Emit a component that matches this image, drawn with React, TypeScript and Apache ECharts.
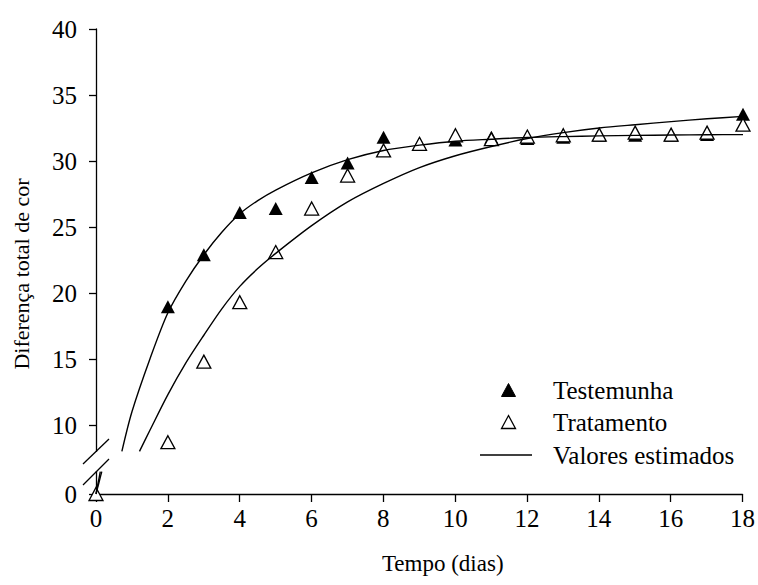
import React, { useEffect, useRef } from "react";
import * as echarts from "echarts";

// Observed points (days and values)
const days = [0, 2, 3, 4, 5, 6, 7, 8, 9, 10, 11, 12, 13, 14, 15, 16, 17, 18];
const testemunha = [0, 18.95, 22.9, 26.1, 26.4, 28.75, 29.85, 31.8, 31.35, 31.6, 31.8, 31.7, 31.8, 31.95, 31.95, 31.95, 32.0, 33.55];
const tratamento = [0, 8.7, 14.8, 19.3, 23.1, 26.4, 28.9, 30.8, 31.3, 31.95, 31.65, 31.85, 31.95, 32.0, 32.15, 32.0, 32.15, 32.75];

// Estimated curves (upper part of the broken axis)
const curveDaysA = [0.72, 1, 1.5, 2, 2.5, 3, 3.5, 4, 4.5, 5, 6, 7, 8, 9, 10, 11, 12, 13, 14, 15, 16, 17, 18];
const curveA = [8.0, 11.0, 15.0, 18.5, 20.9, 22.9, 24.6, 26.0, 27.0, 27.8, 29.1, 30.1, 30.8, 31.2, 31.5, 31.65, 31.78, 31.85, 31.9, 31.94, 31.97, 31.99, 32.0];
const curveDaysB = [1.21, 1.5, 2, 2.5, 3, 3.5, 4, 4.5, 5, 6, 7, 8, 9, 10, 11, 12, 13, 14, 15, 16, 17, 18];
const curveB = [8.0, 9.6, 12.3, 14.7, 16.8, 18.8, 20.5, 21.85, 23.0, 25.1, 26.9, 28.3, 29.5, 30.4, 31.1, 31.7, 32.15, 32.5, 32.75, 32.98, 33.2, 33.38];

// Estimated curves in the lower part of the broken axis
const lowDaysA = [0, 0.12];
const lowA = [0, 1.7];
const lowDaysB = [0, 0.16];
const lowB = [0, 1.7];

// Tick labels
const upperTicks = [10, 15, 20, 25, 30, 35, 40];
const lowerTicks = [0];

// Legend entries
const legendNames = ["Testemunha", "Tratamento", "Valores estimados"];

const FONT = "Liberation Serif";

export default function App() {
  const ref = useRef<HTMLDivElement>(null);

  useEffect(() => {
    document.body.style.margin = "0";
    if (!ref.current) return;
    const chart = echarts.init(ref.current, undefined, { renderer: "svg" });

    const pairs = (xs: number[], ys: number[]) => xs.map((x, i) => [x, ys[i]]);
    const upper = (ys: number[]) => days.map((d, i) => [d, ys[i]]).filter((p) => p[1] >= 8);
    const lower = (ys: number[]) => days.map((d, i) => [d, ys[i]]).filter((p) => p[1] < 8);

    const axisLineStyle = { color: "#000", width: 1.3 };
    const labelStyle = { fontSize: 25, fontFamily: FONT, color: "#000" };

    const filledStyle = { color: "#000", opacity: 1 };
    const hollowStyle = { color: "#fff", borderColor: "#000", borderWidth: 1.3, opacity: 1 };
    const curveStyle = { color: "#000", width: 1.4 };

    // legend: icons as graphic elements, texts as title components
    const lx = 508.5;
    const rowY = [390, 422, 455];
    const tri = (cx: number, cy: number) => [
      [cx, cy - 6.5],
      [cx + 7, cy + 6.5],
      [cx - 7, cy + 6.5],
    ];
    const legendIcons: any[] = [
      { type: "polygon", shape: { points: tri(lx, rowY[0]) }, style: { fill: "#000", stroke: "#000", lineWidth: 1 } },
      { type: "polygon", shape: { points: tri(lx, rowY[1]) }, style: { fill: "#fff", stroke: "#000", lineWidth: 1.3 } },
      { type: "line", shape: { x1: 480, y1: rowY[2], x2: 532, y2: rowY[2] }, style: { stroke: "#000", lineWidth: 1.4 } },
    ];
    const legendTitles = legendNames.map((name, i) => ({
      text: name,
      left: 553,
      top: rowY[i] - 13,
      padding: 0,
      textStyle: { fontSize: 25, fontFamily: FONT, color: "#000", fontWeight: "normal", lineHeight: 26 },
    }));

    chart.setOption({
      animation: false,
      backgroundColor: "#fff",
      title: legendTitles,
      grid: [
        { left: 96, right: 15, top: 29, height: 422.4 },
        { left: 96, right: 15, top: 471.6, height: 22.4 },
        { left: 96, right: 15, top: 29, height: 490 },
      ],
      xAxis: [
        { gridIndex: 0, type: "value", min: 0, max: 18, interval: 2, show: false },
        {
          gridIndex: 1,
          type: "value",
          min: 0,
          max: 18,
          interval: 2,
          axisLine: { show: true, onZero: false, lineStyle: axisLineStyle },
          axisTick: { show: true, length: 8, lineStyle: axisLineStyle },
          axisLabel: { ...labelStyle, margin: 12 },
          splitLine: { show: false },
          name: "Tempo (dias)",
          nameLocation: "middle",
          nameGap: 58,
          nameTextStyle: { fontSize: 23, fontFamily: FONT, color: "#000", padding: [0, 0, 0, 47] },
        },
        { gridIndex: 2, type: "value", min: 0, max: 1, show: false },
      ],
      yAxis: [
        {
          gridIndex: 0,
          type: "value",
          min: 8,
          max: 40,
          axisLine: { show: true, onZero: false, lineStyle: axisLineStyle },
          axisTick: { show: true, length: 7, customValues: upperTicks, lineStyle: axisLineStyle },
          axisLabel: { ...labelStyle, margin: 19, customValues: upperTicks },
          splitLine: { show: false },
        },
        {
          gridIndex: 1,
          type: "value",
          min: 0,
          max: 1.7,
          axisLine: { show: true, onZero: false, lineStyle: axisLineStyle },
          axisTick: { show: true, length: 7, customValues: lowerTicks, lineStyle: axisLineStyle },
          axisLabel: { ...labelStyle, margin: 19, customValues: lowerTicks },
          splitLine: { show: false },
        },
        {
          gridIndex: 2,
          type: "value",
          min: 0,
          max: 1,
          axisLine: { show: false },
          axisTick: { show: false },
          axisLabel: { show: false },
          splitLine: { show: false },
          name: "Diferença total de cor",
          nameLocation: "middle",
          nameRotate: 90,
          nameGap: 64,
          nameTextStyle: { fontSize: 22, fontFamily: FONT, color: "#000" },
        },
      ],
      graphic: [
        { type: "line", shape: { x1: 83, y1: 464, x2: 109, y2: 439 }, style: { stroke: "#000", lineWidth: 1.3 } },
        { type: "line", shape: { x1: 83, y1: 485, x2: 109, y2: 459 }, style: { stroke: "#000", lineWidth: 1.3 } },
        ...legendIcons,
      ],
      series: [
        {
          name: "Testemunha", type: "scatter", xAxisIndex: 0, yAxisIndex: 0, z: 2, clip: false,
          symbol: "triangle", symbolSize: [14, 13], itemStyle: filledStyle, data: upper(testemunha),
        },
        {
          name: "Testemunha", type: "scatter", xAxisIndex: 1, yAxisIndex: 1, z: 2, clip: false,
          symbol: "triangle", symbolSize: [14, 13], itemStyle: filledStyle, data: lower(testemunha),
        },
        {
          name: "Tratamento", type: "scatter", xAxisIndex: 0, yAxisIndex: 0, z: 3, clip: false,
          symbol: "triangle", symbolSize: [14, 13], itemStyle: hollowStyle, data: upper(tratamento),
        },
        {
          name: "Tratamento", type: "scatter", xAxisIndex: 1, yAxisIndex: 1, z: 3, clip: false,
          symbol: "triangle", symbolSize: [14, 13], itemStyle: hollowStyle, data: lower(tratamento),
        },
        {
          name: "Valores estimados", type: "line", xAxisIndex: 0, yAxisIndex: 0, z: 4,
          symbol: "none", smooth: 0.3, lineStyle: curveStyle, itemStyle: { color: "#000" },
          data: pairs(curveDaysA, curveA),
        },
        {
          name: "Valores estimados", type: "line", xAxisIndex: 0, yAxisIndex: 0, z: 4,
          symbol: "none", smooth: 0.3, lineStyle: curveStyle, itemStyle: { color: "#000" },
          data: pairs(curveDaysB, curveB),
        },
        {
          name: "Valores estimados", type: "line", xAxisIndex: 1, yAxisIndex: 1, z: 4,
          symbol: "none", lineStyle: curveStyle, itemStyle: { color: "#000" },
          data: pairs(lowDaysA, lowA),
        },
        {
          name: "Valores estimados", type: "line", xAxisIndex: 1, yAxisIndex: 1, z: 4,
          symbol: "none", lineStyle: curveStyle, itemStyle: { color: "#000" },
          data: pairs(lowDaysB, lowB),
        },
      ],
    });

    return () => chart.dispose();
  }, []);

  return <div ref={ref} style={{ width: 758, height: 585 }} />;
}
